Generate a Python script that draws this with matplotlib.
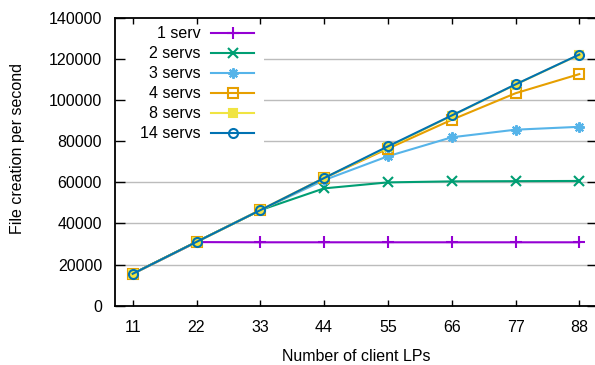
import matplotlib
matplotlib.use("Agg")
import matplotlib.pyplot as plt
from matplotlib.patches import Rectangle

plt.rcParams['font.family'] = ['Liberation Sans', 'DejaVu Sans']
plt.rcParams['font.size'] = 11.5

clients = [11, 22, 33, 44, 55, 66, 77, 88]
serv1 = [15500, 30900, 30800, 30800, 30800, 30800, 30800, 30800]
serv2 = [15500, 31000, 46400, 57000, 59900, 60400, 60500, 60600]
serv3 = [15500, 31000, 46400, 61000, 72600, 81800, 85500, 86900]
serv4 = [15500, 31000, 46400, 62000, 76300, 90300, 103200, 112500]
serv8 = [15500, 31000, 46400, 62000, 77000, 92200, 107400, 121900]
serv14 = [15500, 31000, 46400, 62000, 77400, 92400, 107500, 122000]
yticks = [0, 20000, 40000, 60000, 80000, 100000, 120000, 140000]

labels = ['1 serv', '2 servs', '3 servs', '4 servs', '8 servs', '14 servs']
series = [serv1, serv2, serv3, serv4, serv8, serv14]
colors = ['#9400d3', '#009e73', '#56b4e9', '#e69f00', '#f0e442', '#0072b2']
markers = ['+', 'x', (8, 2, 0), 's', 's', 'o']
fills = [None, None, None, 'none', None, 'none']
msizes = [8, 6.5, 7.5, 6.5, 6.2, 6.5]

fig = plt.figure(figsize=(5.95, 3.65), dpi=100)
# axes: left 115.3px, right ~596.7px, top 17.5px, bottom 305.7px
ax = fig.add_axes([115.3 / 595, (365 - 305.7) / 365, 481.4 / 595, 288.2 / 365])
ax.set_xlim(8, 91)
ax.set_ylim(0, 140000)

# horizontal grid, kept under the key box
for yv in yticks[1:-1]:
    ax.axhline(yv, color='#bcbcbc', lw=1.0, zorder=1)

# key box (opaque, no border)
ax.add_patch(Rectangle((0, (305.7 - 147) / 288.2), (264 - 115.3) / 481.4, 1.0,
                       transform=ax.transAxes, facecolor='white', edgecolor='none', zorder=1.5))

for i, (lab, ys) in enumerate(zip(labels, series)):
    kw = dict(color=colors[i], marker=markers[i], ms=msizes[i], mew=1.5, lw=1.5)
    if fills[i] is not None:
        kw['mfc'] = fills[i]
    ax.plot(clients, ys, zorder=2 + i * 0.1, clip_on=False, **kw)
    # key entry
    py = 33.3 + i * 20.0
    yk = (305.7 - py) / 288.2
    ax.text((200.5 - 115.3) / 481.4, yk, lab, transform=ax.transAxes,
            ha='right', va='center', zorder=3)
    ax.plot([(211 - 115.3) / 481.4, (254 - 115.3) / 481.4], [yk, yk],
            transform=ax.transAxes, zorder=3, lw=1.5, color=colors[i])
    ax.plot([(232.7 - 115.3) / 481.4], [yk], transform=ax.transAxes, zorder=3,
            linestyle='none', **{k: v for k, v in kw.items() if k != 'lw'})

ax.set_axisbelow(False)
ax.set_xticks(clients)
ax.set_yticks(yticks)
ax.tick_params(axis='x', direction='in', length=4, width=1, top=True, pad=10)
ax.tick_params(axis='y', direction='in', length=7, width=1, right=True, pad=9.5)
for sp in ax.spines.values():
    sp.set_linewidth(1.3)

ax.set_xlabel('Number of client LPs')
ax.set_ylabel('File creation per second')
ax.yaxis.set_label_coords((25 - 115.3) / 481.4, (305.7 - 148) / 288.2)
ax.xaxis.set_label_coords(0.5, (305.7 - 349) / 288.2)

fig.savefig('out.png', dpi=100)
